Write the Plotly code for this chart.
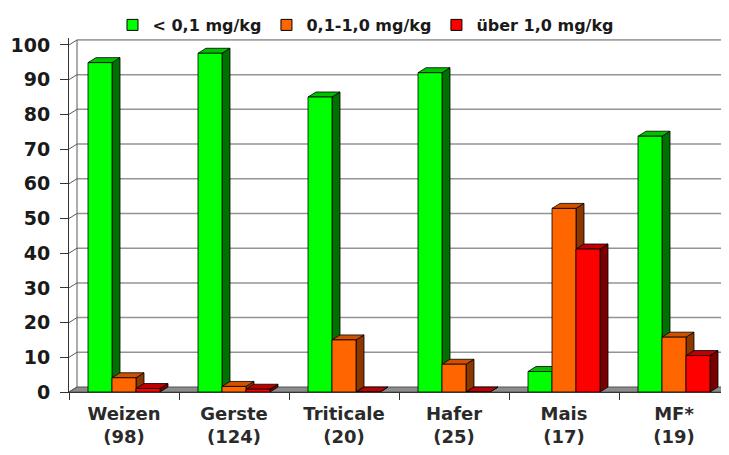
import plotly.graph_objects as go

# ---------------- data ----------------
categories = ["Weizen<br>(98)", "Gerste<br>(124)", "Triticale<br>(20)",
              "Hafer<br>(25)", "Mais<br>(17)", "MF*<br>(19)"]
series_names = ["&lt; 0,1 mg/kg", "0,1-1,0 mg/kg", "über 1,0 mg/kg"]
low_values = [94.9, 97.6, 85.0, 92.0, 5.9, 73.7]
mid_values = [4.1, 1.6, 15.0, 8.0, 52.9, 15.8]
high_values = [1.0, 0.8, 0.0, 0.0, 41.2, 10.5]
y_ticks = [0, 10, 20, 30, 40, 50, 60, 70, 80, 90, 100]

# ---------------- style ----------------
front_colors = ["#00FF00", "#FF6600", "#FF0000"]
side_colors = ["#007000", "#8A3800", "#7A0000"]
top_colors = ["#00C000", "#D05000", "#C00000"]
FONT = "DejaVu Sans"

# page body has an 8px default margin -> figure is offset by 8px
OFF = 8
W, H = 729 - OFF, 455 - OFF
ML, MR, MT, MB = 69 - OFF, 0, 38 - OFF, 63
Y_MAX = 102.0
n = len(categories)
px_x = (W - ML - MR) / n
px_y = (H - MT - MB) / Y_MAX
DXu = 8 / px_x
DYu = 5 / px_y
BW = 24 / px_x

series_values = [low_values, mid_values, high_values]

fig = go.Figure()

x_left, x_right = -0.5, n - 0.5

# floor
fig.add_trace(go.Scatter(
    x=[x_left, x_right, x_right, x_left + DXu, x_left],
    y=[0, 0, DYu, DYu, 0], mode="lines", fill="toself",
    fillcolor="#8c8c8c", line=dict(color="#555555", width=1),
    hoverinfo="skip", showlegend=False))

# back wall grid lines
gx, gy = [], []
for t in y_ticks[1:-1]:
    gx += [x_left + DXu, x_right, None]
    gy += [t + DYu, t + DYu, None]
fig.add_trace(go.Scatter(x=gx, y=gy, mode="lines",
                         line=dict(color="#939393", width=1.5),
                         hoverinfo="skip", showlegend=False))
# wall border lines + left wall tick connectors
bx, by = [], []
bx += [x_left + DXu, x_left + DXu, x_right, None]
by += [DYu, y_ticks[-1] + DYu, y_ticks[-1] + DYu, None]
for t in y_ticks:
    bx += [x_left, x_left + DXu, None]
    by += [t, t + DYu, None]
fig.add_trace(go.Scatter(x=bx, y=by, mode="lines",
                         line=dict(color="#5a5a5a", width=1),
                         hoverinfo="skip", showlegend=False))

# 3D bars
for i in range(n):
    for j, vals in enumerate(series_values):
        v = vals[i]
        x0 = i + (j - 1.5) * BW
        x1 = x0 + BW
        # side
        fig.add_trace(go.Scatter(
            x=[x1, x1 + DXu, x1 + DXu, x1, x1],
            y=[0, DYu, v + DYu, v, 0], mode="lines", fill="toself",
            fillcolor=side_colors[j], line=dict(color="#000000", width=0.8),
            hoverinfo="skip", showlegend=False))
        # top
        fig.add_trace(go.Scatter(
            x=[x0, x0 + DXu, x1 + DXu, x1, x0],
            y=[v, v + DYu, v + DYu, v, v], mode="lines", fill="toself",
            fillcolor=top_colors[j], line=dict(color="#000000", width=0.8),
            hoverinfo="skip", showlegend=False))
        # front
        fig.add_trace(go.Scatter(
            x=[x0, x1, x1, x0, x0],
            y=[0, 0, v, v, 0], mode="lines", fill="toself",
            fillcolor=front_colors[j], line=dict(color="#000000", width=0.8),
            hoverinfo="text", text=f"{v}", showlegend=False))

# legend entries
for j, name in enumerate(series_names):
    fig.add_trace(go.Scatter(
        x=[None], y=[None], mode="markers", name=name,
        marker=dict(symbol="square", size=11, color=front_colors[j],
                    line=dict(color="#000000", width=1))))

# dummy trace for boundary tick axis
fig.add_trace(go.Scatter(x=[None], y=[None], xaxis="x2", yaxis="y",
                         showlegend=False, hoverinfo="skip"))

fig.update_layout(
    width=W, height=H,
    margin=dict(l=ML, r=MR, t=MT, b=MB, autoexpand=False),
    plot_bgcolor="white", paper_bgcolor="white",
    font=dict(family=FONT, color="#1a1a1a"),
    showlegend=True,
    legend=dict(orientation="h", xref="container", yref="container",
                x=(366 - OFF) / W, xanchor="center", y=1.0, yanchor="top",
                font=dict(family=FONT, size=16, weight="bold", color="#1a1a1a"),
                itemwidth=30, tracegroupgap=0, bgcolor="rgba(0,0,0,0)"),
    xaxis=dict(range=[x_left, x_right], tickvals=list(range(n)),
               ticktext=categories, ticks="", showgrid=False, zeroline=False,
               showline=True, linecolor="#333333", linewidth=1,
               ticklabelstandoff=5,
               tickfont=dict(family=FONT, size=18, weight="bold", color="#2a2a2a")),
    xaxis2=dict(range=[x_left, x_right], overlaying="x", anchor="y",
                side="bottom", tickvals=[x_left + k for k in range(n + 1)],
                ticks="outside", ticklen=7, tickcolor="#333333", tickwidth=1,
                showticklabels=False, showgrid=False, zeroline=False,
                showline=False),
    yaxis=dict(range=[0, Y_MAX], tickvals=y_ticks, ticks="outside",
               ticklen=8, tickcolor="#333333", showline=True,
               linecolor="#333333", linewidth=1, showgrid=False,
               zeroline=False, ticklabelstandoff=6,
               tickfont=dict(family=FONT, size=19, weight="bold", color="#1a1a1a")),
)

fig.write_html("out.html")
